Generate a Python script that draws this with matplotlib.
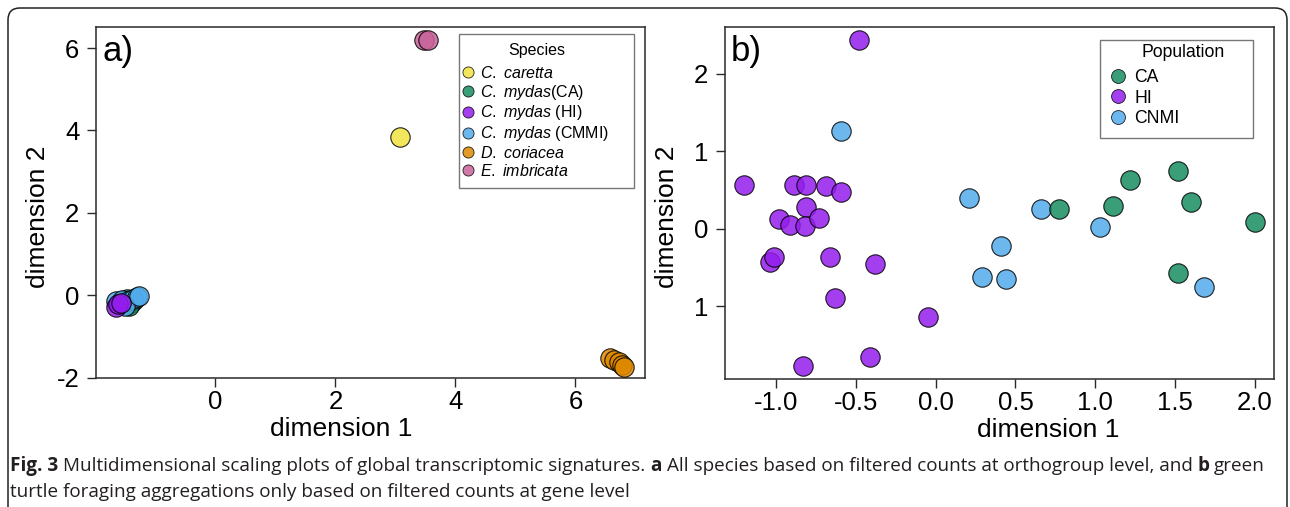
import matplotlib
matplotlib.use("Agg")
import matplotlib.pyplot as plt
from matplotlib.lines import Line2D
from matplotlib.patches import FancyBboxPatch, Rectangle
from matplotlib.transforms import IdentityTransform

plt.rcParams['font.family'] = ['Liberation Sans', 'DejaVu Sans']
plt.rcParams['axes.unicode_minus'] = False
plt.rcParams['mathtext.fontset'] = 'custom'
plt.rcParams['mathtext.it'] = 'Liberation Sans:italic'
plt.rcParams['mathtext.rm'] = 'Liberation Sans'

# ---- panel a: all species (orthogroup level) ----
caretta_x = [3.08]
caretta_y = [3.84]
imbricata_x = [3.48, 3.55]
imbricata_y = [6.20, 6.19]
coriacea_x = [6.58, 6.65, 6.72, 6.78, 6.81]
coriacea_y = [-1.52, -1.58, -1.63, -1.70, -1.74]
a_ca_x = [-1.48, -1.40, -1.35, -1.44]
a_ca_y = [-0.08, -0.20, -0.12, -0.26]
a_cmmi_x = [-1.66, -1.55, -1.45, -1.38, -1.30, -1.50, -1.27]
a_cmmi_y = [-0.15, -0.12, -0.15, -0.10, -0.05, -0.25, -0.02]
a_hi_x = [-1.65, -1.62, -1.58]
a_hi_y = [-0.28, -0.22, -0.18]

# ---- panel b: green turtle populations (gene level) ----
ca_x = [0.77, 1.11, 1.22, 1.52, 1.60, 2.00, 1.52]
ca_y = [0.25, 0.29, 0.63, 0.74, 0.35, 0.08, -0.57]
hi_x = [-0.48, -1.20, -0.89, -0.81, -0.69, -0.59, -0.81, -0.98, -0.91, -0.82,
        -0.73, -1.04, -1.01, -0.66, -0.38, -0.63, -0.05, -0.41, -0.83]
hi_y = [2.43, 0.56, 0.56, 0.56, 0.55, 0.47, 0.28, 0.13, 0.05, 0.03,
        0.14, -0.43, -0.37, -0.37, -0.46, -0.90, -1.14, -1.66, -1.77]
cnmi_x = [-0.59, 0.21, 0.66, 0.41, 0.29, 0.44, 1.03, 1.68]
cnmi_y = [1.26, 0.39, 0.25, -0.22, -0.62, -0.65, 0.02, -0.75]

a_xticks = [0, 2, 4, 6]
a_yticks = [-2, 0, 2, 4, 6]
b_xticks = [-1.0, -0.5, 0.0, 0.5, 1.0, 1.5, 2.0]
b_xtick_labels = ['-1.0', '-0.5', '0.0', '0.5', '1.0', '1.5', '2.0']
b_yticks = [-1, 0, 1, 2]
b_ytick_labels = ['1', '0', '1', '2']

species_labels = [r'$\mathit{C.}$ $\mathit{caretta}$', r'$\mathit{C.}$ $\mathit{mydas}$(CA)',
                  r'$\mathit{C.}$ $\mathit{mydas}$ (HI)', r'$\mathit{C.}$ $\mathit{mydas}$ (CMMI)',
                  r'$\mathit{D.}$ $\mathit{coriacea}$', r'$\mathit{E.}$ $\mathit{imbricata}$']
pop_labels = ['CA', 'HI', 'CNMI']

col_yellow = '#f0e23f'
col_green = '#178d60'
col_purple = '#941ded'
col_blue = '#52aceb'
col_orange = '#de8800'
col_pink = '#c8639a'
ALPHA = 0.85
frame_col = '#2a2a2a'
legend_edge = '#777777'

fig = plt.figure(figsize=(12.9, 5.07), dpi=100)
ax_a = fig.add_axes([0.0744, 0.2544, 0.4256, 0.6923])
ax_b = fig.add_axes([0.5620, 0.2525, 0.4256, 0.6937])


def pts(ax, x, y, c, s):
    ax.scatter(x, y, s=s, c=c, alpha=ALPHA, edgecolors='black', linewidths=0.8, zorder=3)


def style(ax):
    for sp in ax.spines.values():
        sp.set_color(frame_col)
        sp.set_linewidth(1.1)
    ax.tick_params(axis='both', direction='out', length=6.5, width=1.0,
                   color=frame_col, labelsize=18.5)
    ax.tick_params(axis='x', pad=2)
    ax.tick_params(axis='y', pad=5.5)


def handles(cols, ms):
    return [Line2D([], [], ls='none', marker='o', markersize=ms, markerfacecolor=c,
                   markeredgecolor='black', markeredgewidth=0.6, alpha=ALPHA) for c in cols]


S = 195
pts(ax_a, a_ca_x, a_ca_y, col_green, S)
pts(ax_a, a_cmmi_x, a_cmmi_y, col_blue, S)
pts(ax_a, a_hi_x, a_hi_y, col_purple, S)
pts(ax_a, caretta_x, caretta_y, col_yellow, S)
pts(ax_a, imbricata_x, imbricata_y, col_pink, S)
pts(ax_a, coriacea_x, coriacea_y, col_orange, S)
ax_a.set_xlim(-1.99, 7.16)
ax_a.set_ylim(-2.01, 6.51)
ax_a.set_xticks(a_xticks)
ax_a.set_yticks(a_yticks)
style(ax_a)
ax_a.set_xlabel('dimension 1', fontsize=19)
ax_a.set_ylabel('dimension 2', fontsize=19)
ax_a.xaxis.set_label_coords(0.446, -0.112)
ax_a.yaxis.set_label_coords(-0.084, 0.46)
ax_a.text(0.011, 0.978, 'a)', transform=ax_a.transAxes, fontsize=25, ha='left', va='top')

# legend a: frame and title drawn separately, entries via legend
ax_a.add_patch(Rectangle((0.6612, 0.5413), 0.3188, 0.4387, transform=ax_a.transAxes,
                         fill=True, facecolor='white', edgecolor=legend_edge,
                         linewidth=1.0, zorder=4))
ax_a.text(0.803, 0.9345, 'Species', transform=ax_a.transAxes, fontsize=11.5,
          ha='center', va='center', zorder=5)
leg_a = ax_a.legend(handles([col_yellow, col_green, col_purple, col_blue, col_orange, col_pink], 8),
                    species_labels, loc='upper left', bbox_to_anchor=(0.666, 0.892),
                    borderaxespad=0, borderpad=0, fontsize=11.5, frameon=False,
                    handletextpad=0.3, handlelength=0.85, labelspacing=0.11)
leg_a.set_zorder(6)

pts(ax_b, hi_x, hi_y, col_purple, S)
pts(ax_b, cnmi_x, cnmi_y, col_blue, S)
pts(ax_b, ca_x, ca_y, col_green, S)
ax_b.set_xlim(-1.32, 2.12)
ax_b.set_ylim(-1.94, 2.60)
ax_b.set_xticks(b_xticks, b_xtick_labels)
ax_b.set_yticks(b_yticks, b_ytick_labels)
style(ax_b)
ax_b.set_xlabel('dimension 1', fontsize=19)
ax_b.set_ylabel('dimension 2', fontsize=19)
ax_b.xaxis.set_label_coords(0.588, -0.112)
ax_b.yaxis.set_label_coords(-0.084, 0.46)
ax_b.text(0.011, 0.978, 'b)', transform=ax_b.transAxes, fontsize=25, ha='left', va='top')

ax_b.add_patch(Rectangle((0.683, 0.6853), 0.2787, 0.2787, transform=ax_b.transAxes,
                         fill=True, facecolor='white', edgecolor=legend_edge,
                         linewidth=1.0, zorder=4))
ax_b.text(0.835, 0.927, 'Population', transform=ax_b.transAxes, fontsize=12.7,
          ha='center', va='center', zorder=5)
leg_b = ax_b.legend(handles([col_green, col_purple, col_blue], 10), pop_labels,
                    loc='upper left', bbox_to_anchor=(0.6998, 0.8814),
                    borderaxespad=0, borderpad=0, fontsize=12.7, frameon=False,
                    handletextpad=0.41, handlelength=1.0, labelspacing=0.2)
leg_b.set_zorder(6)

# outer rounded frame (pixel coords)
W, H = 1290, 507
fig.patches.append(FancyBboxPatch((8, -40), 1279, H - 8 + 40,
                                  boxstyle='round,pad=0,rounding_size=12',
                                  transform=IdentityTransform(), fill=False,
                                  edgecolor='#222222', linewidth=1.1))

# caption, pieces laid side by side with bold parts
rend = fig.canvas.get_renderer()
cap_font = dict(fontsize=13.6, family=['Open Sans', 'DejaVu Sans'], color='#231f20')

probe1 = fig.text(0, 0, 'a a', **cap_font)
probe2 = fig.text(0, 0, 'aa', **cap_font)
space_w = probe1.get_window_extent(rend).width - probe2.get_window_extent(rend).width
probe1.remove()
probe2.remove()


def chain(pieces, x0, y0):
    x = x0
    for txt, bold in pieces:
        t = fig.text(x / W, y0 / H, txt, ha='left', va='baseline',
                     fontweight='bold' if bold else 'normal', **cap_font)
        x = t.get_window_extent(rend).x1 + space_w


line1 = [('Fig. 3', True),
         ('Multidimensional scaling plots of global transcriptomic signatures.', False),
         ('a', True),
         ('All species based on filtered counts at orthogroup level, and', False),
         ('b', True),
         ('green', False)]
line2 = [('turtle foraging aggregations only based on filtered counts at gene level', False)]
chain(line1, 10, H - 471)
chain(line2, 10, H - 497)

fig.savefig('out.png', dpi=100)
